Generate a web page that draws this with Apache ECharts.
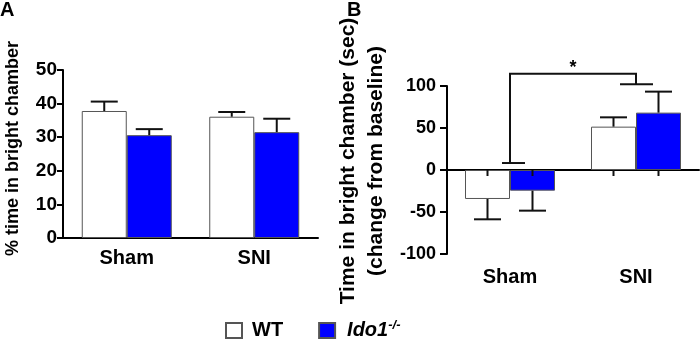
<!DOCTYPE html>
<html>
<head>
<meta charset="utf-8">
<script src="https://cdn.jsdelivr.net/npm/echarts@6/dist/echarts.min.js"></script>
<style>
  html, body { margin: 0; padding: 0; background: #fff; }
  #main { width: 700px; height: 345px; }
</style>
</head>
<body>
<div id="main"></div>
<script>
// 数据
var groups = ['Sham', 'SNI'];

// A: % time in bright chamber
var aWT = [37.8, 36.1];
var aWTErr = [40.6, 37.5];
var aKO = [30.6, 31.5];
var aKOErr = [32.4, 35.5];

// B: change from baseline (sec)
var bWT = [-34.5, 51.6];
var bWTErr = [-58.7, 62.7];
var bKO = [-24.6, 68.3];
var bKOErr = [-48.4, 93.3];

// 显著性标注: [左组, 左端值, 右组, 右端值, 顶部值]
var sigBracket = [[0, 8.3, 1, 102, 114.6]];
var sigLabel = '*';

var font = 'Liberation Sans, Arial, sans-serif';
var barW = 45;

var chartDom = document.getElementById('main');
var myChart = echarts.init(chartDom);

// 误差线
function errRender(off, ticks) {
	return function(params, api) {
		var cat = api.value(0);
		var p0 = api.coord([cat, api.value(1)]);
		var p1 = api.coord([cat, api.value(2)]);
		var x = p0[0] + off;
		var st = { stroke: '#111', lineWidth: 2 };
		var kids = [
			{ type: 'line', shape: { x1: x, y1: p0[1], x2: x, y2: p1[1] }, style: st },
			{ type: 'line', shape: { x1: x - 13.5, y1: p1[1], x2: x + 13.5, y2: p1[1] }, style: st }
		];
		if (ticks) {
			var z = api.coord([cat, 0]);
			kids.push({ type: 'line', shape: { x1: x, y1: z[1], x2: x, y2: z[1] + 6 }, style: st });
		}
		return { type: 'group', children: kids };
	};
}

function errData(mean, err) {
	return mean.map(function(v, i) { return [i, v, err[i]]; });
}

function barStyle(color) {
	return { color: color, borderColor: '#555', borderWidth: 1 };
}

function txt(size) {
	return { color: '#000', fontFamily: font, fontWeight: 'bold', fontSize: size };
}

var axisLineStyle = { color: '#000', width: 2 };

var option = {
	animation: false,
	backgroundColor: '#fff',
	textStyle: { fontFamily: font },
	grid: [
		{ left: 63, top: 70, width: 255, height: 168 },
		{ left: 447, top: 86, width: 252, height: 168 }
	],
	xAxis: [
		{
			type: 'category', gridIndex: 0, data: groups,
			axisLine: { lineStyle: axisLineStyle },
			axisTick: { show: false },
			axisLabel: Object.assign({ margin: 10 }, txt(20))
		},
		{
			type: 'category', gridIndex: 1, data: groups,
			axisLine: { onZero: true, lineStyle: axisLineStyle },
			axisTick: { show: false },
			axisLabel: { show: false }
		},
		{
			type: 'category', gridIndex: 1, data: groups, position: 'bottom',
			axisLine: { show: false, onZero: false },
			axisTick: { show: false },
			axisLabel: Object.assign({ margin: 13 }, txt(20))
		}
	],
	yAxis: [
		{
			type: 'value', gridIndex: 0, min: 0, max: 50, interval: 10,
			name: '% time in bright chamber',
			nameLocation: 'middle', nameGap: 41,
			nameTextStyle: Object.assign({ padding: [0, 0, 0, 11] }, txt(18)),
			axisLine: { show: true, lineStyle: axisLineStyle },
			axisTick: { show: true, length: 6, lineStyle: axisLineStyle },
			axisLabel: Object.assign({ margin: 6 }, txt(19)),
			splitLine: { show: false }
		},
		{
			type: 'value', gridIndex: 1, min: -100, max: 100, interval: 50,
			name: 'Time in bright chamber (sec)\n(change from baseline)',
			nameLocation: 'middle', nameGap: 57,
			nameTextStyle: Object.assign({ lineHeight: 28, padding: [0, 0, 0, 18] }, txt(21)),
			axisLine: { show: true, onZero: false, lineStyle: axisLineStyle },
			axisTick: { show: true, length: 7, lineStyle: axisLineStyle },
			axisLabel: Object.assign({ margin: 11 }, txt(18)),
			splitLine: { show: false }
		}
	],
	legend: {
		data: ['WT', 'Ido1-/-'],
		left: 225, top: 319, padding: 0,
		icon: 'rect', itemWidth: 16, itemHeight: 15, itemGap: 35,
		formatter: function(name) {
			return name === 'WT' ? '{b|WT}' : '{i|Ido1}{s|-/-}';
		},
		textStyle: {
			rich: {
				b: Object.assign({ padding: [0, 0, 0, 5] }, txt(20)),
				i: Object.assign({ fontStyle: 'italic', padding: [0, 0, 0, 7] }, txt(20)),
				s: Object.assign({ fontStyle: 'italic', verticalAlign: 'top', padding: [0, 0, 10, 0] }, txt(13))
			}
		}
	},
	graphic: [
		{ type: 'text', left: 0, top: 0, style: { text: 'A', font: 'bold 20px ' + font, fill: '#000' } },
		{ type: 'text', left: 347, top: 0, style: { text: 'B', font: 'bold 20px ' + font, fill: '#000' } }
	],
	series: [
		{ name: 'WT', type: 'bar', xAxisIndex: 0, yAxisIndex: 0, data: aWT, barWidth: barW, barGap: '0%', itemStyle: barStyle('#fff') },
		{ name: 'Ido1-/-', type: 'bar', xAxisIndex: 0, yAxisIndex: 0, data: aKO, barWidth: barW, barGap: '0%', itemStyle: barStyle('#0000ff') },
		{ name: 'WT', type: 'bar', xAxisIndex: 1, yAxisIndex: 1, data: bWT, barWidth: barW, barGap: '0%', itemStyle: barStyle('#fff') },
		{ name: 'Ido1-/-', type: 'bar', xAxisIndex: 1, yAxisIndex: 1, data: bKO, barWidth: barW, barGap: '0%', itemStyle: barStyle('#0000ff') },
		{ type: 'custom', xAxisIndex: 0, yAxisIndex: 0, renderItem: errRender(-barW / 2, false), data: errData(aWT, aWTErr), z: 5 },
		{ type: 'custom', xAxisIndex: 0, yAxisIndex: 0, renderItem: errRender(barW / 2, false), data: errData(aKO, aKOErr), z: 5 },
		{ type: 'custom', xAxisIndex: 1, yAxisIndex: 1, renderItem: errRender(-barW / 2, true), data: errData(bWT, bWTErr), z: 5 },
		{ type: 'custom', xAxisIndex: 1, yAxisIndex: 1, renderItem: errRender(barW / 2, true), data: errData(bKO, bKOErr), z: 5 },
		{
			// 显著性括号
			type: 'custom', xAxisIndex: 1, yAxisIndex: 1, clip: false, z: 6,
			data: sigBracket,
			renderItem: function(params, api) {
				var l = api.coord([api.value(0), api.value(1)]);
				var r = api.coord([api.value(2), api.value(3)]);
				var top = api.coord([api.value(0), api.value(4)])[1];
				var st = { stroke: '#111', lineWidth: 2, fill: null };
				return {
					type: 'group',
					children: [
						{ type: 'polyline', shape: { points: [[l[0], l[1]], [l[0], top], [r[0], top], [r[0], r[1]]] }, style: st },
						{ type: 'line', shape: { x1: l[0] - 8, y1: l[1], x2: l[0] + 15, y2: l[1] }, style: st },
						{ type: 'line', shape: { x1: r[0] - 16, y1: r[1], x2: r[0] + 17, y2: r[1] }, style: st },
						{ type: 'text', x: (l[0] + r[0]) / 2, y: top - 15, style: { text: sigLabel, font: 'bold 18px ' + font, fill: '#000', align: 'center', verticalAlign: 'top' } }
					]
				};
			}
		}
	]
};

myChart.setOption(option);
</script>
</body>
</html>
